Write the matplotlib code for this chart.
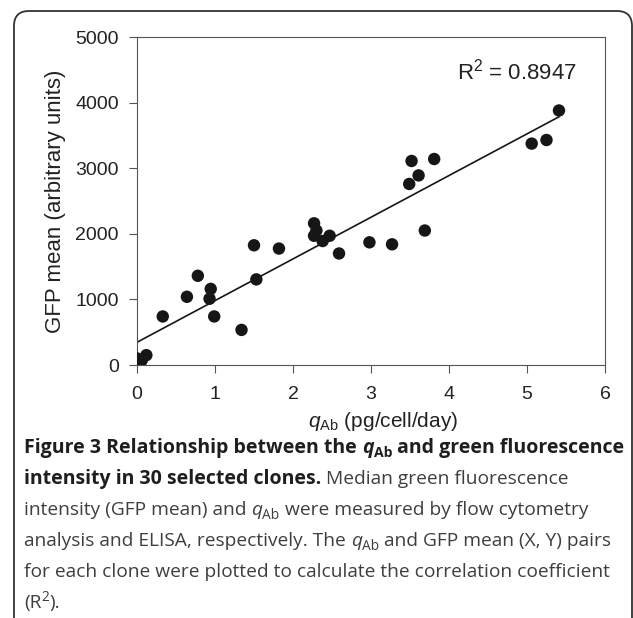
import numpy as np
import matplotlib
matplotlib.use("Agg")
import matplotlib.pyplot as plt
from matplotlib.path import Path
from matplotlib.patches import PathPatch

# q_Ab (pg/cell/day) and GFP mean for the 30 clones
q_ab = [0.00, 0.03, 0.06, 0.12, 0.33, 0.64, 0.78, 0.945, 0.93, 0.99,
        1.34, 1.50, 1.53, 1.82, 2.27, 2.30, 2.27, 2.38, 2.47, 2.59,
        2.98, 3.27, 3.49, 3.52, 3.61, 3.69, 3.81, 5.06, 5.25, 5.41]
gfp = [100, 40, 70, 150, 740, 1040, 1360, 1160, 1010, 740,
       535, 1825, 1305, 1775, 2160, 2050, 1970, 1890, 1970, 1700,
       1870, 1840, 2760, 3110, 2890, 2050, 3140, 3375, 3430, 3880]
r2_label = "0.8947"
x_ticks = [0, 1, 2, 3, 4, 5, 6]
y_ticks = [0, 1000, 2000, 3000, 4000, 5000]

plt.rcParams['font.family'] = ['Liberation Sans', 'DejaVu Sans']
plt.rcParams['mathtext.fontset'] = 'custom'
plt.rcParams['mathtext.rm'] = 'Liberation Sans'
plt.rcParams['mathtext.it'] = 'Liberation Sans:italic'
plt.rcParams['mathtext.bf'] = 'Liberation Sans:bold'

W, H = 633, 618
fig = plt.figure(figsize=(W / 100, H / 100), dpi=100)

# scatter panel
ax = fig.add_axes([137 / W, 1 - 365 / H, 468 / W, 328 / H])
ax.scatter(q_ab, gfp, s=80, color='#161616', edgecolors='none', zorder=3)
slope, icpt = np.polyfit(q_ab, gfp, 1)
xs = np.array([0, max(q_ab)])
ax.plot(xs, slope * xs + icpt, color='#161616', lw=1.2, zorder=2)
ax.text(0.94, 0.869, r"R$^2$ = " + r2_label, transform=ax.transAxes,
        ha='right', va='baseline', fontsize=16, color='#222222')

ax.set_xlim(0, 6)
ax.set_ylim(0, 5000)
ax.set_xticks(x_ticks)
ax.set_yticks(y_ticks)
ax.tick_params(axis='both', direction='out', length=6, width=0.8,
               color='#555555', labelsize=14, labelcolor='#222222')
ax.tick_params(axis='x', pad=9)
ax.tick_params(axis='y', pad=7)
for sp in ax.spines.values():
    sp.set_linewidth(0.8)
    sp.set_color('#555555')
ax.set_xlabel(r"$q_{\mathrm{Ab}}$ (pg/cell/day)", fontsize=15,
              color='#222222', labelpad=5)
ax.xaxis.label.set_x(0.525)
ax.set_ylabel("GFP mean (arbitrary units)", fontsize=16,
              color='#222222', labelpad=7)

# overlay in pixel units for the frame and caption
ov = fig.add_axes([0, 0, 1, 1], zorder=-1)
ov.set_xlim(0, W)
ov.set_ylim(H, 0)
ov.axis('off')

r = 15
verts = [(14, H + 5), (14, 11 + r), (14, 11), (14 + r, 11),
         (632 - r, 11), (632, 11), (632, 11 + r), (632, H + 5)]
codes = [Path.MOVETO, Path.LINETO, Path.CURVE3, Path.CURVE3,
         Path.LINETO, Path.CURVE3, Path.CURVE3, Path.LINETO]
ov.add_patch(PathPatch(Path(verts, codes), fill=False, lw=1.3,
                       edgecolor='#333333'))

renderer = fig.canvas.get_renderer()
cap_size = 13.75
cap_font = ['Open Sans', 'DejaVu Sans']


def measure(txt, **kw):
    t = ov.text(0, 0, txt, **kw)
    w = t.get_window_extent(renderer).width
    t.remove()
    return w


def draw_line(x, y, segments):
    for txt, style in segments:
        tags = style.split()
        bold = 'b' in tags
        small = 'sub' in tags or 'sup' in tags
        size = cap_size * (1.02 if bold else 1) * (0.72 if small else 1)
        kw = dict(fontsize=size, family=cap_font,
                  weight='bold' if bold else 'normal',
                  style='italic' if 'i' in tags else 'normal',
                  color='#1e1e1e' if bold else '#3e3e3e')
        dy = 4 if 'sub' in tags else (-7 if 'sup' in tags else 0)
        space = measure('a a', **kw) - measure('aa', **kw)
        if txt.startswith(' '):
            x += space
        core = txt.strip()
        if core:
            ov.text(x, y + dy, core, va='baseline', ha='left', **kw)
            x += measure(core, **kw)
        if txt.endswith(' ') and len(txt) > 1:
            x += space


caption = [
    [("Figure 3 Relationship between the ", 'b'), ("q", 'b i'), ("Ab", 'b sub'),
     (" and green fluorescence", 'b')],
    [("intensity in 30 selected clones.", 'b'), (" Median green fluorescence", '')],
    [("intensity (GFP mean) and ", ''), ("q", 'i'), ("Ab", 'sub'),
     (" were measured by flow cytometry", '')],
    [("analysis and ELISA, respectively. The ", ''), ("q", 'i'), ("Ab", 'sub'),
     (" and GFP mean (X, Y) pairs", '')],
    [("for each clone were plotted to calculate the correlation coefficient", '')],
    [("(R", ''), ("2", 'sup'), (").", '')],
]
for k, line in enumerate(caption):
    draw_line(24, 453 + 31 * k, line)

fig.savefig("out.png", dpi=100)
